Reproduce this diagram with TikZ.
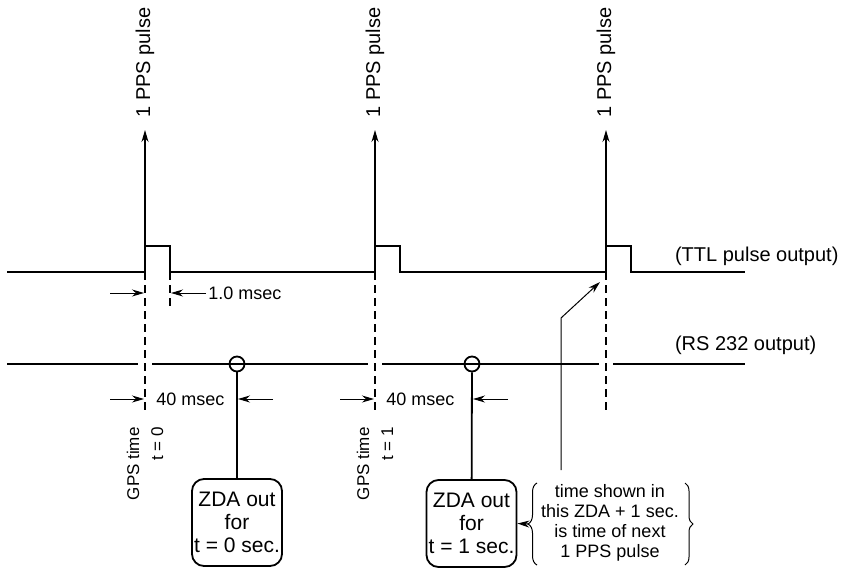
\documentclass[tikz,border=0pt]{standalone}
\usepackage{fontspec}
\setmainfont{Liberation Sans}
\usetikzlibrary{arrows.meta,decorations.pathreplacing}

\begin{document}
\begin{tikzpicture}[x=0.5pt,y=-0.5pt,
    font=\fontsize{10}{12}\selectfont,
    sig/.style={line width=1pt},
    guide/.style={line width=0.8pt,dash pattern=on 4pt off 2.5pt},
    dim/.style={line width=0.5pt,-{Stealth[length=6pt,width=3.5pt]}},
    small/.style={font=\fontsize{9}{10}\selectfont},
    zda/.style={draw,line width=0.9pt,rounded corners=6pt,align=center,
        minimum width=45pt,minimum height=43.5pt,inner sep=1pt,
        font=\fontsize{10.5}{11.5}\selectfont},
    tap/.style={circle,draw,line width=0.9pt,minimum size=7.5pt,inner sep=0pt}]
    \useasboundingbox (0,0) rectangle (841,568);
    % TTL pulse train
    \draw[sig] (7,272) -- (145,272) -- (145,246) -- (170,246) -- (170,272)
        -- (375,272) -- (375,246) -- (400,246) -- (400,272)
        -- (606,272) -- (606,246) -- (631,246) -- (631,272) -- (745,272);
    \node[anchor=west] (ttl) at (668,256) {(TTL pulse output)};
    % 1 PPS arrows
    \foreach \x in {145,375,606} {
        \node[rotate=90,anchor=west,inner sep=6pt] (pps\x) at (\x,130) {1 PPS pulse};
        \draw[line width=0.6pt,-{Stealth[length=6pt,width=3.5pt]}] (\x,246) -- (pps\x.west);
    }
    % RS 232 line
    \draw[sig] (7,364) -- (138,364) (152,364) -- (368,364)
        (382,364) -- (599,364) (613,364) -- (745,364);
    \node[anchor=west] (rs) at (668,345) {(RS 232 output)};
    % dashed time marks
    \draw[guide] (145,272) -- (145,413);
    \draw[guide] (170,272) -- (170,310);
    \draw[guide] (375,272) -- (375,413);
    \draw[guide] (606,272) -- (606,413);
    % 1.0 msec
    \coordinate (m1) at (110,293);
    \coordinate (m2) at (144,293);
    \coordinate (m3) at (171,293);
    \draw[dim] (m1) -- (m2);
    \node[small,anchor=west,inner sep=1pt] (msec) at (206,293) {1.0 msec};
    \draw[dim] (msec.west) -- (m3);
    % ZDA messages
    \node[tap] (z0) at (237,364) {};
    \node[tap] (z1) at (472,364) {};
    \node[zda] (zda0) at (237,522.5) {ZDA out\\for\\t = 0 sec.};
    \node[zda] (zda1) at (471.5,523.5) {ZDA out\\for\\t = 1 sec.};
    \draw[line width=0.9pt] (z0) -- (zda0);
    \draw[line width=0.9pt] (z1) -- (zda1);
    % 40 msec
    \foreach \x/\z/\n in {145/237/0,375/472/1} {
        \coordinate (a\n) at (\x-35,399);
        \coordinate (b\n) at (\x-1,399);
        \coordinate (c\n) at (\z+36,399);
        \coordinate (d\n) at (\z+1,399);
        \draw[dim] (a\n) -- (b\n);
        \draw[dim] (c\n) -- (d\n);
        \node[small,anchor=west,inner sep=0pt] (forty\n) at (\x+11,399) {40 msec};
        \node[rotate=90,anchor=east,align=right,inner sep=0pt,
            font=\fontsize{8.5}{12}\selectfont] (gps\n) at (\x,427) {GPS time\\t = \n};
    }
    % note with braces
    \node[small,align=center] (note) at (610,523) {time shown in\\this ZDA + 1 sec.\\is time of next\\1 PPS pulse};
    \draw[decorate,decoration={brace,amplitude=4.5pt},line width=0.5pt] (537,565) -- (537,483);
    \draw[decorate,decoration={brace,amplitude=4pt},line width=0.5pt] (685,483) -- (685,565);
    \coordinate (tip) at (528,524);
    \draw[dim] (tip) -- (zda1.east);
    % pointer to next pulse
    \coordinate (p0) at (561,470);
    \coordinate (p1) at (561,318);
    \coordinate (p2) at (600,282);
    \draw[dim] (p0) -- (p1) -- (p2);
\end{tikzpicture}
\end{document}
